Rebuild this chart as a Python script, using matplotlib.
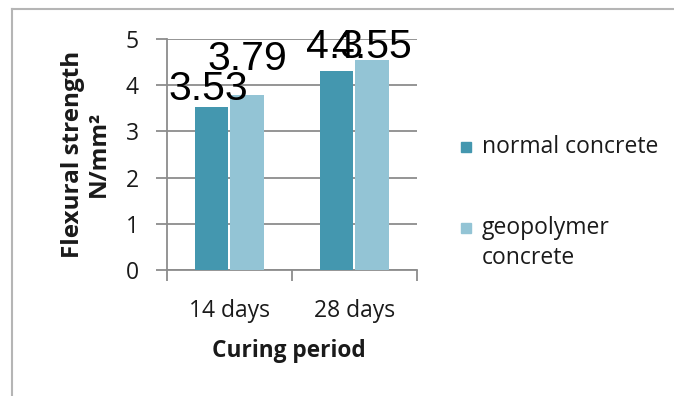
import numpy as np
import matplotlib
matplotlib.use("Agg")
import matplotlib.pyplot as plt
from matplotlib.lines import Line2D
from matplotlib.patches import Rectangle

# data
periods = ["14 days", "28 days"]
series = ["normal concrete", "geopolymer\nconcrete"]
normal = [3.53, 4.3]
geopolymer = [3.79, 4.55]
label_text = [["3.53", "4.3"], ["3.79", "4.55"]]

# styling
colors = ["#4497AF", "#93C4D5"]
label_lift_px = [[7, 13], [25, 2]]   # excel put the labels at odd heights
label_shift_px = [[-3, -2], [0, 0]]
grid_col = "#8c8c8c"
txt_col = "#1a1a1a"

plt.rcParams["font.family"] = ["Open Sans", "DejaVu Sans"]

W, H = 674, 396
fig = plt.figure(figsize=(W/100, H/100), dpi=100)
ax = fig.add_axes([166.7/W, 1-270/H, 250/W, 231/H])

x = np.arange(len(periods))
w = 0.265
off = 0.142
for i, vals in enumerate([normal, geopolymer]):
    xs = x + (i*2-1)*off
    ax.bar(xs, vals, width=w, color=colors[i], label=series[i], zorder=3)
    for j, v in enumerate(vals):
        ax.annotate(label_text[i][j], (xs[j], v),
                    xytext=(label_shift_px[i][j]*0.72, label_lift_px[i][j]*0.72),
                    textcoords="offset points", ha="center", va="baseline",
                    fontsize=29.5, family=["Liberation Sans", "DejaVu Sans"],
                    color="black", zorder=5, annotation_clip=False)

ax.set_xlim(-0.5, 1.5)
ax.set_ylim(0, 5)
ax.set_yticks(range(6))
ax.set_xticks([-0.5, 0.5, 1.5], minor=False)
ax.set_xticklabels([])
ax.set_xticks(x, minor=True)
ax.set_xticklabels(periods, minor=True)
ax.tick_params(axis="x", which="major", length=8, width=1.3, color=grid_col, direction="out")
ax.tick_params(axis="x", which="minor", length=0, pad=21, labelsize=16.5, labelcolor=txt_col)
ax.tick_params(axis="y", length=8, width=1.3, color=grid_col, pad=12, labelsize=16.5, labelcolor=txt_col)
ax.grid(axis="y", color=grid_col, lw=1.3, zorder=0)
for s in ["top", "right"]:
    ax.spines[s].set_visible(False)
for s in ["left", "bottom"]:
    ax.spines[s].set_color(grid_col)
    ax.spines[s].set_linewidth(1.3)

fig.text(86/W, 1-154/H, "Flexural strength\nN/mm²", rotation=90, ha="center", va="center",
         fontsize=17.5, fontweight="bold", multialignment="center", color=txt_col, linespacing=1.1)
fig.text(289/W, 1-351/H, "Curing period", ha="center", va="center",
         fontsize=16.3, fontweight="bold", color=txt_col)

# legend drawn by hand so the square sits on the first line like excel does
leg_y = [147, 228]
leg_center = [147, 243]
for i in range(len(series)):
    fig.add_artist(Rectangle((461/W, 1-(leg_y[i]+5)/H), 10/W, 10/H,
                             transform=fig.transFigure, color=colors[i]))
    fig.text(482/W, 1-leg_center[i]/H, series[i], ha="left", va="center",
             fontsize=16.5, color=txt_col, linespacing=1.3)

# outer chart frame
fig.add_artist(Line2D([12/W, 12/W], [0, 1-9/H], transform=fig.transFigure, color="#b5b5b5", lw=1.5))
fig.add_artist(Line2D([12/W, 1], [1-9/H, 1-9/H], transform=fig.transFigure, color="#b5b5b5", lw=1.5))

fig.savefig("out.png", dpi=100)
